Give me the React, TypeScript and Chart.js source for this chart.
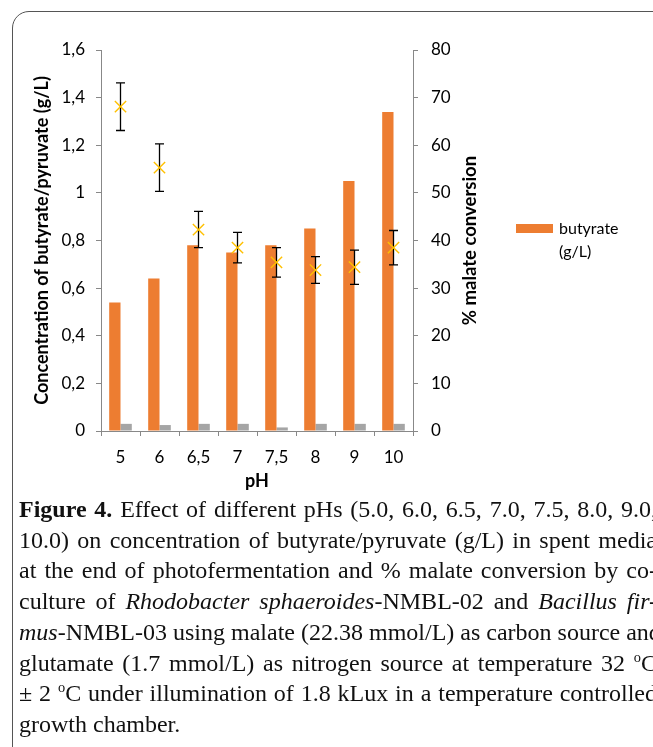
import React, { useEffect, useRef } from "react";
import { Chart, registerables } from "chart.js";

Chart.register(...registerables);

const categories = ["5", "6", "6,5", "7", "7,5", "8", "9", "10"];
const butyrate = [0.54, 0.64, 0.78, 0.75, 0.78, 0.85, 1.05, 1.34];
const pyruvate = [0.03, 0.025, 0.03, 0.03, 0.015, 0.03, 0.03, 0.03];
const malateConversion = [68.1, 55.3, 42.3, 38.5, 35.4, 33.8, 34.4, 38.5];
const malateError = [5.0, 5.0, 3.8, 3.2, 3.1, 2.8, 3.6, 3.6];

const leftAxisTitle = "Concentration of butyrate/pyruvate (g/L)";
const rightAxisTitle = "% malate conversion";
const xAxisTitle = "pH";
const legendLines = ["butyrate", "(g/L)"];

const captionLines: { parts: { t: string; b?: boolean; i?: boolean; sup?: boolean }[]; last?: boolean }[] = [
  { parts: [{ t: "Figure 4.", b: true }, { t: " Effect of different pHs (5.0, 6.0, 6.5, 7.0, 7.5, 8.0, 9.0," }] },
  { parts: [{ t: "10.0) on concentration of butyrate/pyruvate (g/L) in spent media" }] },
  { parts: [{ t: "at the end of photofermentation and % malate conversion by co-" }] },
  { parts: [{ t: "culture of " }, { t: "Rhodobacter sphaeroides", i: true }, { t: "-NMBL-02 and " }, { t: "Bacillus fir-", i: true }] },
  { parts: [{ t: "mus", i: true }, { t: "-NMBL-03 using malate (22.38 mmol/L) as carbon source and" }] },
  { parts: [{ t: "glutamate (1.7 mmol/L) as nitrogen source at temperature 32 " }, { t: "o", sup: true }, { t: "C" }] },
  { parts: [{ t: "± 2 " }, { t: "o", sup: true }, { t: "C under illumination of 1.8 kLux in a temperature controlled" }] },
  { parts: [{ t: "growth chamber." }], last: true },
];

const ORANGE = "#ED7D31";
const GRAY = "#A5A5A5";
const GOLD = "#FFC000";
const AXIS = "#888888";
const FONT = "Lato";

const fmt = (v: number) => String(Number(v.toFixed(2))).replace(".", ",");

const errorBarPlugin = {
  id: "errorBars",
  beforeDatasetDraw(chart: any, args: any) {
    if (args.index !== 0) return;
    const meta = chart.getDatasetMeta(0);
    const y1 = chart.scales.y1;
    const ctx = chart.ctx;
    ctx.save();
    ctx.strokeStyle = "#000";
    ctx.lineWidth = 1.3;
    meta.data.forEach((pt: any, i: number) => {
      const x = pt.x;
      const top = y1.getPixelForValue(malateConversion[i] + malateError[i]);
      const bot = y1.getPixelForValue(malateConversion[i] - malateError[i]);
      ctx.beginPath();
      ctx.moveTo(x, top);
      ctx.lineTo(x, bot);
      ctx.moveTo(x - 4.5, top);
      ctx.lineTo(x + 4.5, top);
      ctx.moveTo(x - 4.5, bot);
      ctx.lineTo(x + 4.5, bot);
      ctx.stroke();
    });
    ctx.restore();
  },
};

const labelsPlugin = {
  id: "labelsPlugin",
  afterDraw(chart: any) {
    const ctx = chart.ctx;
    const ca = chart.chartArea;
    const midY = (ca.top + ca.bottom) / 2;
    ctx.save();
    ctx.fillStyle = "#000";
    ctx.textAlign = "center";
    ctx.textBaseline = "middle";
    ctx.font = `bold 18px ${FONT}`;
    ctx.save();
    ctx.translate(42, midY);
    ctx.rotate(-Math.PI / 2);
    ctx.fillText(leftAxisTitle, 0, 0);
    ctx.restore();
    ctx.font = `bold 18.5px ${FONT}`;
    ctx.save();
    ctx.translate(470, midY);
    ctx.rotate(-Math.PI / 2);
    ctx.fillText(rightAxisTitle, 0, 0);
    ctx.restore();
    ctx.font = `bold 18px ${FONT}`;
    ctx.fillText(xAxisTitle, (ca.left + ca.right) / 2, 481);
    // legend
    ctx.fillStyle = ORANGE;
    ctx.fillRect(516, 224, 37, 9);
    ctx.fillStyle = "#000";
    ctx.font = `16px ${FONT}`;
    ctx.textAlign = "left";
    ctx.fillText(legendLines[0], 559, 229);
    ctx.fillText(legendLines[1], 559, 252);
    ctx.restore();
  },
};

export default function App() {
  const ref = useRef<HTMLCanvasElement>(null);
  useEffect(() => {
    if (!ref.current) return;
    const chart = new Chart(ref.current, {
      type: "bar",
      data: {
        labels: categories,
        datasets: [
          {
            type: "line",
            label: "% malate conversion",
            data: malateConversion,
            yAxisID: "y1",
            showLine: false,
            pointStyle: "crossRot",
            pointRadius: 8,
            pointBorderWidth: 1.4,
            borderColor: GOLD,
            backgroundColor: GOLD,
            order: 0,
          } as any,
          {
            label: "butyrate (g/L)",
            data: butyrate,
            backgroundColor: ORANGE,
            yAxisID: "y",
            categoryPercentage: 0.58,
            barPercentage: 1,
            order: 1,
          },
          {
            label: "pyruvate (g/L)",
            data: pyruvate,
            backgroundColor: GRAY,
            yAxisID: "y",
            categoryPercentage: 0.58,
            barPercentage: 1,
            order: 1,
          },
        ],
      },
      options: {
        animation: false,
        responsive: false,
        maintainAspectRatio: false,
        layout: { padding: { top: 50, left: 0, right: 200, bottom: 0 } },
        plugins: { legend: { display: false }, tooltip: { enabled: false } },
        scales: {
          x: {
            afterFit: (s: any) => { s.height = 69; },
            grid: { drawOnChartArea: false, tickLength: 5, color: AXIS, offset: true },
            border: { color: AXIS },
            ticks: { color: "#000", font: { family: FONT, size: 17 }, padding: 11 },
          },
          y: {
            position: "left",
            min: 0,
            max: 1.6,
            afterFit: (s: any) => { s.width = 101; },
            grid: { drawOnChartArea: false, tickLength: 5, color: AXIS },
            border: { color: AXIS },
            ticks: {
              stepSize: 0.2,
              color: "#000",
              font: { family: FONT, size: 17 },
              padding: 11,
              callback: (v: any) => fmt(Number(v)),
            },
          },
          y1: {
            position: "right",
            min: 0,
            max: 80,
            afterFit: (s: any) => { s.width = 40; },
            grid: { drawOnChartArea: false, tickLength: 5, color: AXIS },
            border: { color: AXIS },
            ticks: {
              stepSize: 10,
              color: "#000",
              font: { family: FONT, size: 17 },
              padding: 13,
            },
          },
        },
      },
      plugins: [errorBarPlugin, labelsPlugin],
    });
    return () => chart.destroy();
  }, []);

  return (
    <div style={{ position: "fixed", left: 0, top: 0, width: 653, height: 747, overflow: "hidden", background: "#fff" }}>
      <div
        style={{
          position: "absolute",
          left: 12,
          top: 11,
          width: 700,
          height: 760,
          border: "1px solid #555",
          borderRadius: 17,
          boxSizing: "border-box",
        }}
      />
      <canvas ref={ref} width={653} height={500} style={{ position: "absolute", left: 0, top: 0, width: 653, height: 500 }} />
      <div
        style={{
          position: "absolute",
          left: 19,
          top: 494,
          width: 638,
          fontFamily: "'Liberation Serif', 'Times New Roman', serif",
          fontSize: 24,
          lineHeight: "30.7px",
          color: "#111",
        }}
      >
        {captionLines.map((line, li) => (
          <div
            key={li}
            style={{
              textAlign: line.last ? "left" : "justify",
              textAlignLast: line.last ? "left" : "justify",
              whiteSpace: "nowrap",
            } as any}
          >
            {line.parts.map((p, pi) => {
              const st: any = {};
              if (p.b) st.fontWeight = "bold";
              if (p.i) st.fontStyle = "italic";
              if (p.sup) {
                return (
                  <sup key={pi} style={{ fontSize: "0.6em", verticalAlign: "0.6em", lineHeight: 0 }}>
                    {p.t}
                  </sup>
                );
              }
              return (
                <span key={pi} style={st}>
                  {p.t}
                </span>
              );
            })}
          </div>
        ))}
      </div>
    </div>
  );
}
